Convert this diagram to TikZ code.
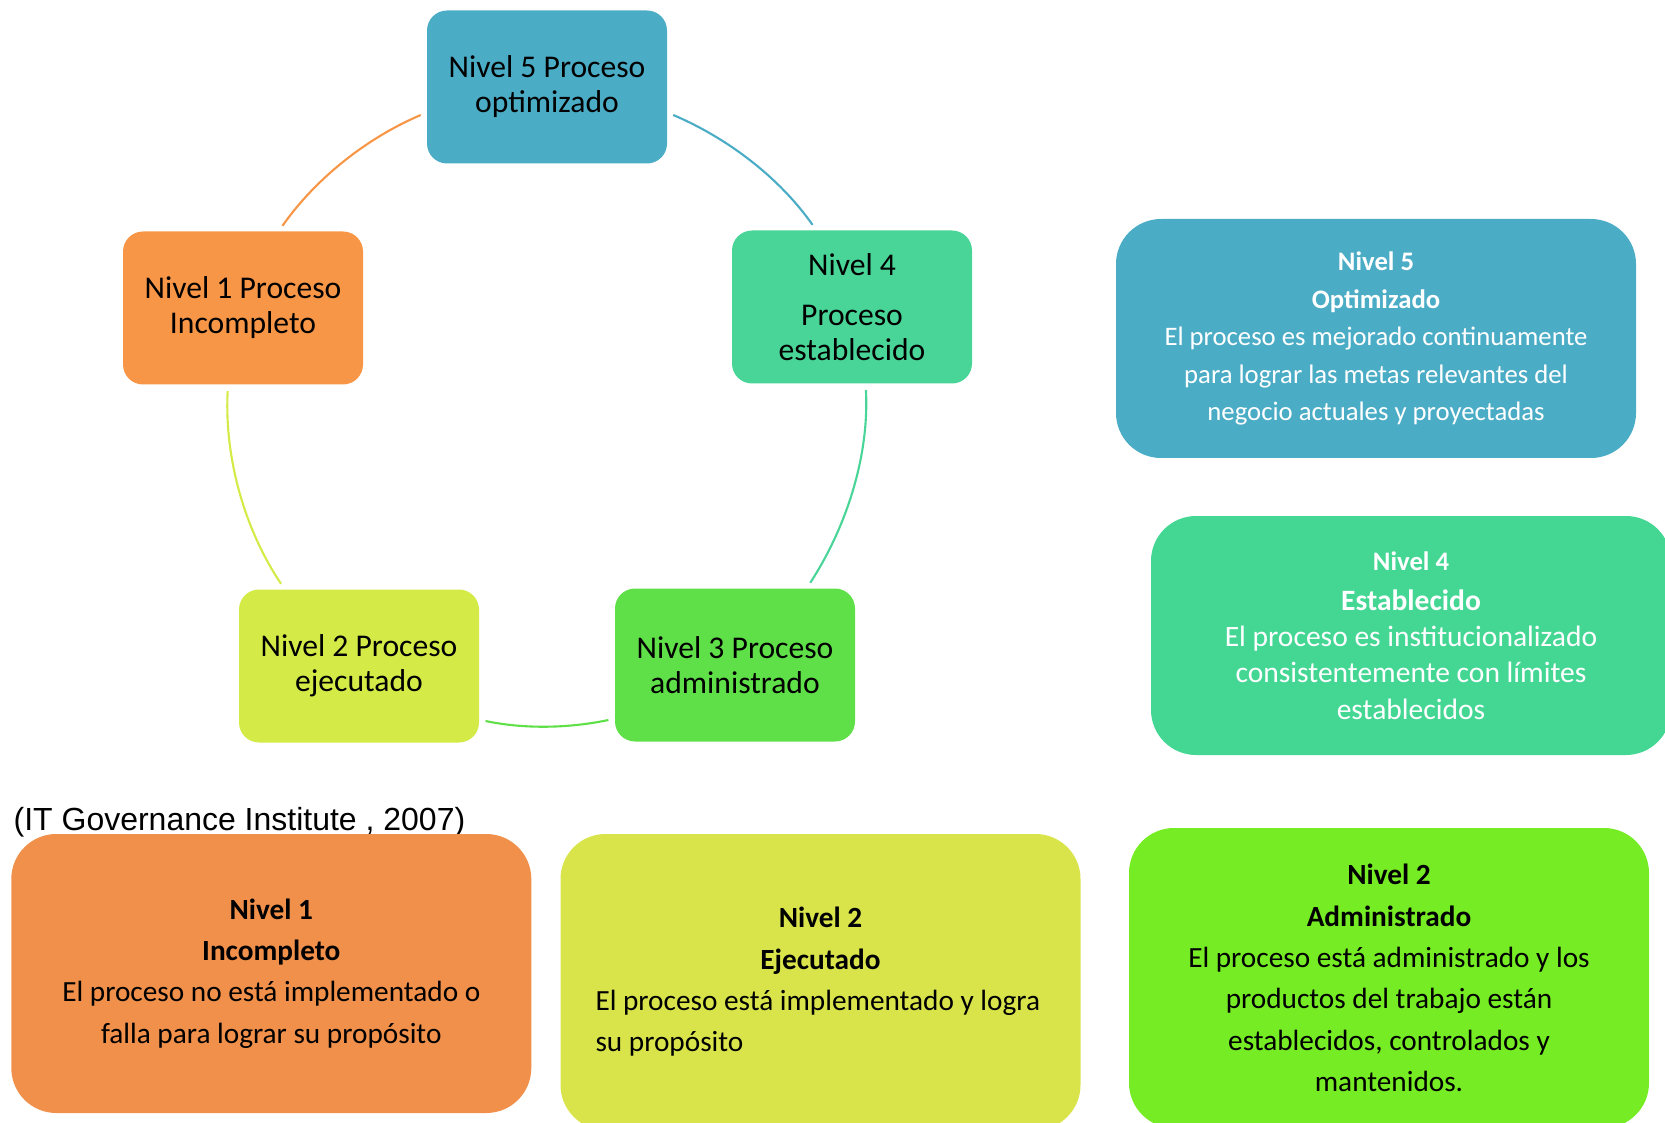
\documentclass[tikz,border=0pt]{standalone}
\usepackage{fontspec}
\setmainfont{Carlito}
\newfontfamily\arialfont{Liberation Sans}
\usepackage{tikz}
\usetikzlibrary{positioning}
\definecolor{NivAzul}{RGB}{75,172,198}
\definecolor{NivNaranja}{RGB}{247,150,70}
\definecolor{NivTurquesa}{RGB}{72,213,151}
\definecolor{NivAmarillo}{RGB}{212,235,71}
\definecolor{NivVerde}{RGB}{95,224,72}
\definecolor{NivTurquesaB}{RGB}{68,215,148}
\definecolor{NivNaranjaB}{RGB}{240,144,74}
\definecolor{NivAmarilloB}{RGB}{217,228,75}
\definecolor{NivVerdeB}{RGB}{118,236,36}
\tikzset{
  niv/ciclo/.style={
    rounded corners=0.2cm,
    minimum width=2.4cm,
    minimum height=1.53cm,
    inner sep=0pt,
    align=center,
    text=black,
    font=\fontsize{9}{9.95}\selectfont
  },
  niv/desc/.style={
    rounded corners=0.45cm,
    minimum width=5.2cm,
    inner sep=0pt,
    align=center,
    text=black
  },
  niv/arco/.style={line width=0.6pt, looseness=0.87, shorten <=0.06cm, shorten >=0.06cm},
  niv/cita/.style={anchor=base west, inner sep=0pt, font=\arialfont\fontsize{9.1}{10}\selectfont}
}

\begin{document}
\begin{tikzpicture}[x=1cm,y=1cm]
  \useasboundingbox (0,0) rectangle (16.65,11.22);
  \clip (0,0) rectangle (16.65,11.22);
  % ciclo de niveles
  \node[niv/ciclo,fill=NivAzul] (n5) at (5.47,10.35) {Nivel 5 Proceso\\optimizado};
  \node[niv/ciclo,fill=NivNaranja] (n1) at (2.43,8.14) {Nivel 1 Proceso\\Incompleto};
  \node[niv/ciclo,fill=NivTurquesa] (n4) at (8.52,8.15) {Nivel 4\\[0.15cm]Proceso\\establecido};
  \node[niv/ciclo,fill=NivAmarillo] (n2) at (3.59,4.56) {Nivel 2 Proceso\\ejecutado};
  \node[niv/ciclo,fill=NivVerde] (n3) at (7.35,4.57) {Nivel 3 Proceso\\administrado};
  \draw[niv/arco,draw=NivNaranja] (n1.65) to[out=55,in=203] (n5.192);
  \draw[niv/arco,draw=NivAzul] (n5.348) to[out=-23,in=125] (n4.115);
  \draw[niv/arco,draw=NivTurquesa] (n4.280) to[out=-87,in=57] (n3.47);
  \draw[niv/arco,draw=NivVerde] (n3.204) to[out=192,in=348] (n2.336);
  \draw[niv/arco,draw=NivAmarillo] (n2.134) to[out=124,in=267] (n1.259);
  % descripciones
  \node[niv/desc,fill=NivAzul,text=white,minimum height=2.39cm,
    font=\fontsize{7.6}{10.65}\selectfont] (d5) at (13.76,7.835)
    {\textbf{Nivel 5}\\\textbf{Optimizado}\\El proceso es mejorado continuamente\\para lograr las metas relevantes del\\negocio actuales y proyectadas};
  \node[niv/desc,fill=NivTurquesaB,text=white,minimum height=2.39cm,
    font=\fontsize{8.4}{10.3}\selectfont] (d4) at (14.11,4.865)
    {{\fontsize{7.6}{10}\selectfont\textbf{Nivel 4}}\\[0.04cm]\textbf{Establecido}\\El proceso es institucionalizado\\consistentemente con límites\\establecidos};
  \node[niv/cita] (cita) at (0.13,2.92) {(IT Governance Institute , 2007)};
  \node[niv/desc,fill=NivNaranjaB,minimum height=2.79cm,
    font=\fontsize{8.33}{11.75}\selectfont] (b1) at (2.713,1.485)
    {\textbf{Nivel 1}\\\textbf{Incompleto}\\El proceso no está implementado o\\falla para lograr su propósito};
  \node[niv/desc,fill=NivAmarilloB,minimum height=2.96cm,
    font=\fontsize{8.33}{11.75}\selectfont] (b2) at (8.205,1.40)
    {\textbf{Nivel 2}\\\textbf{Ejecutado}\\\makebox[4.5cm][l]{El proceso está implementado y logra}\\\makebox[4.5cm][l]{su propósito}};
  \node[niv/desc,fill=NivVerdeB,minimum height=3.0cm,
    font=\fontsize{8.33}{11.75}\selectfont] (b3) at (13.89,1.44)
    {\textbf{Nivel 2}\\\textbf{Administrado}\\El proceso está administrado y los\\productos del trabajo están\\establecidos, controlados y\\mantenidos.};
\end{tikzpicture}
\end{document}
